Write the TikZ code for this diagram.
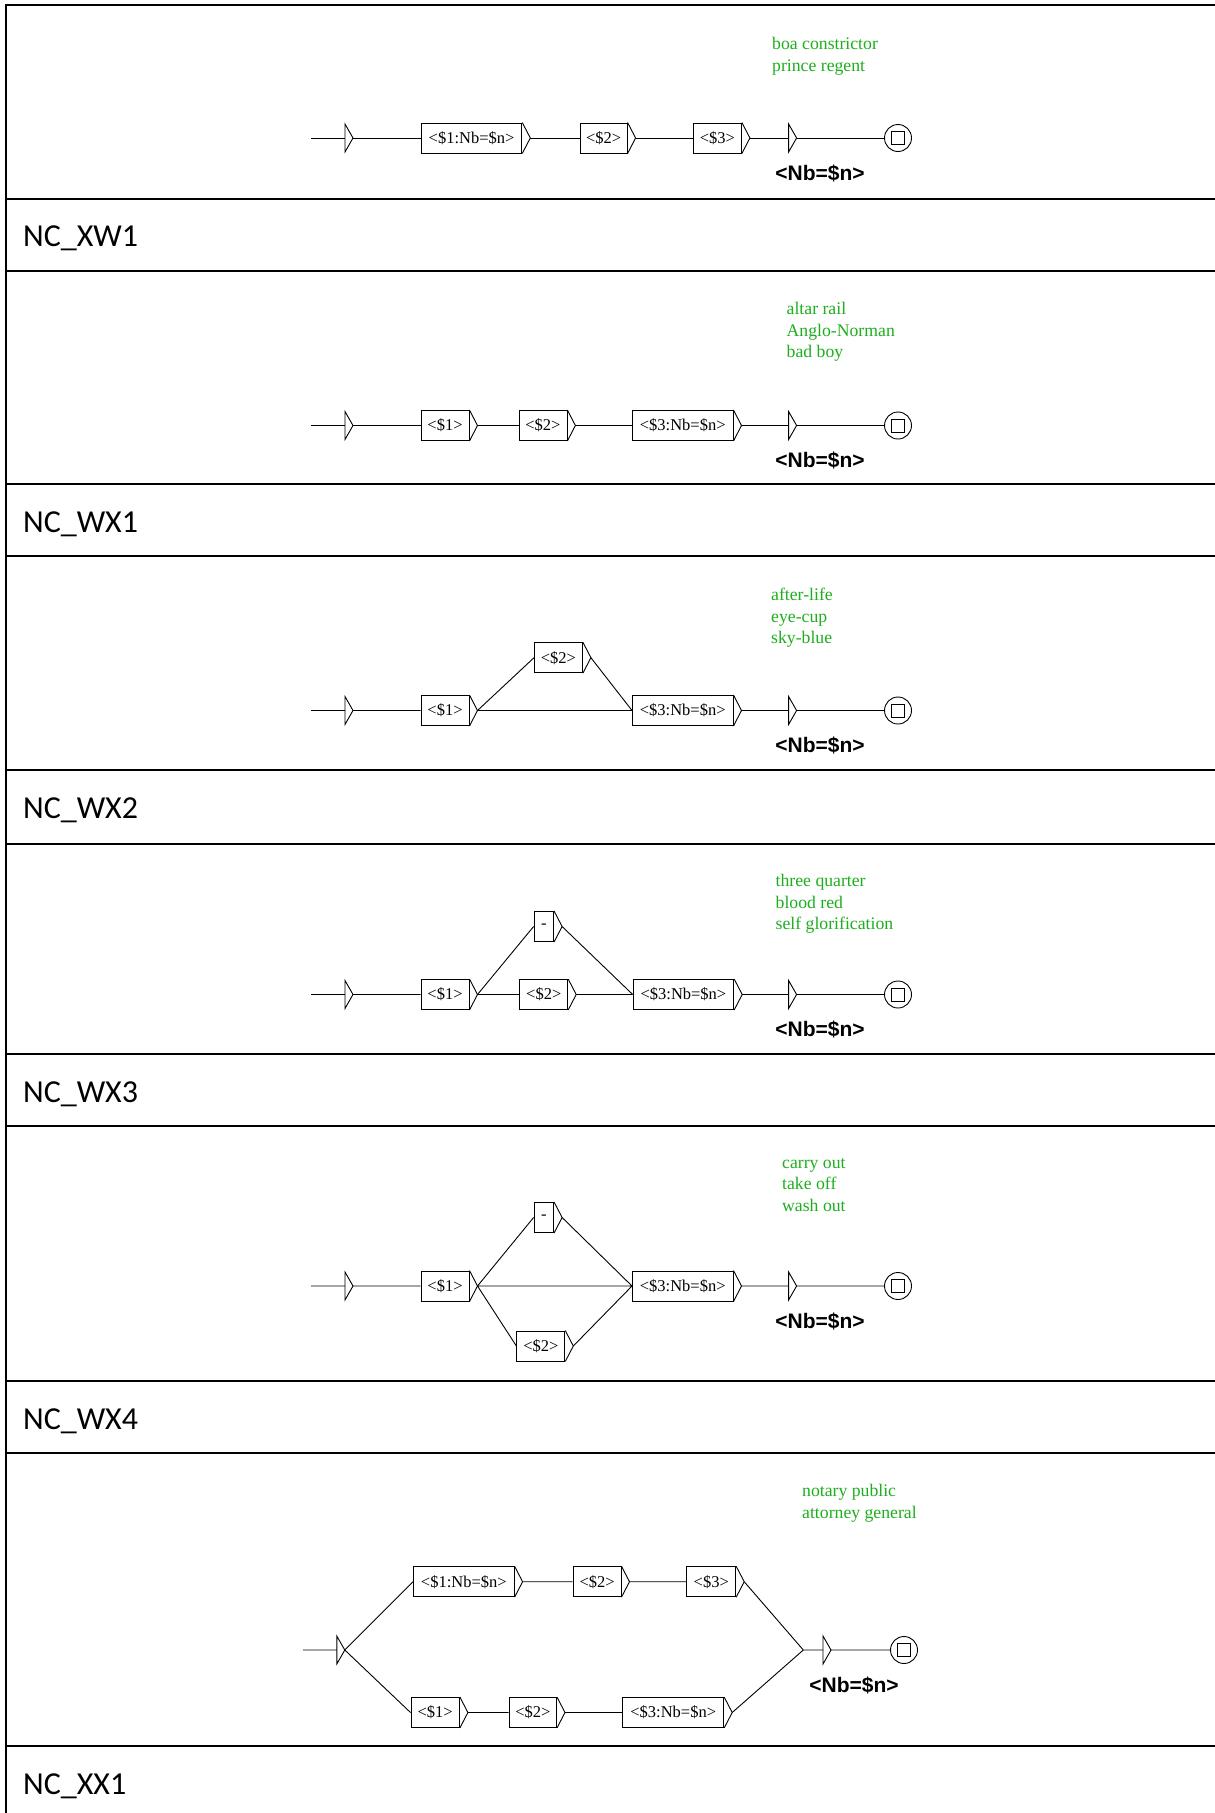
\documentclass[tikz,border=0pt]{standalone}
\usepackage{fontspec}
\setmainfont{Liberation Serif}
\newfontfamily\labfont{Carlito}
\newfontfamily\outfont{Liberation Sans}
\usetikzlibrary{calc}
\definecolor{ugreen}{RGB}{30,175,30}
\newcommand\boxf{\fontsize{16.5}{19}\selectfont}
\newcommand\grnf{\fontsize{17.7}{20}\selectfont}
\newcommand\outf{\outfont\bfseries\fontsize{21}{24}\selectfont}
\newcommand\labf{\labfont\fontsize{32}{38}\selectfont}
\tikzset{
  wire/.style={line width=0.9pt},
  tline/.style={line width=2pt},
  ubox/.style={draw, rectangle, line width=0.9pt, inner sep=0pt, minimum height=30pt, font=\boxf},
  grn/.style={font=\grnf, text=ugreen, anchor=base west, inner sep=0pt},
  outl/.style={font=\outf, anchor=base, inner sep=0pt},
  labl/.style={font=\labf, anchor=base west, inner sep=0pt}
}
\newcommand\UBox[5]{%
  \node[ubox, minimum width=#4pt, anchor=west] (#1) at (#2,#3) {#5};
  \coordinate (#1t) at ($(#1.east)+(8,0)$);
  \draw[wire] (#1.north east) -- (#1t) -- (#1.south east);}
\newcommand\UInit[3]{%
  \coordinate (#1b) at (#2,#3);
  \coordinate (#1t) at (#2+8,#3);
  \draw[wire] (#2,#3-14) -- (#1t) -- (#2,#3+14) -- cycle;}
\newcommand\UFinal[3]{%
  \node[draw, circle, wire, minimum size=27pt, inner sep=0pt] (#1) at (#2,#3) {};
  \node[draw, wire, minimum size=13pt, inner sep=0pt] (#1s) at (#1.center) {};}
\begin{document}
\begin{tikzpicture}[x=1pt,y=-1pt]
\useasboundingbox (0,0) rectangle (1215,1813);
\fill[white] (0,0) rectangle (1215,1813);
% table
\draw[tline] (5,5) -- (1215,5);
\draw[tline] (6,4) -- (6,1813);
\foreach \yy in {199,270.5,484.4,556,770,844,1054.3,1126,1381.4,1453,1745.6}
  \draw[tline] (5,\yy) -- (1215,\yy);
\node[labl] (L1) at (23,246.8) {NC\_XW1};
\node[labl] (L2) at (23,532.5) {NC\_WX1};
\node[labl] (L3) at (23,818) {NC\_WX2};
\node[labl] (L4) at (23,1102.2) {NC\_WX3};
\node[labl] (L5) at (23,1429.5) {NC\_WX4};
\node[labl] (L6) at (23,1794) {NC\_XX1};

% ---------- row 1
\coordinate (r1s) at (311,138);
\UInit{r1i}{345}{138}
\UBox{r1a}{420.8}{138}{100.6}{<\$1:Nb=\$n>}
\UBox{r1b}{579.7}{138}{47}{<\$2>}
\UBox{r1c}{693}{138}{48}{<\$3>}
\UInit{r1e}{788.6}{138}
\UFinal{r1f}{898}{138}
\node[outl] (r1o) at (820,180) {<Nb=\$n>};
\draw[wire] (r1s) -- (r1ib) (r1it) -- (r1a.west) (r1at) -- (r1b.west)
  (r1bt) -- (r1c.west) (r1ct) -- (r1eb) (r1et) -- (r1f.west);
\node[grn] (r1g1) at (772,49) {boa constrictor};
\node[grn] (r1g2) at (772,71) {prince regent};

% ---------- row 2
\coordinate (r2s) at (311,425.5);
\UInit{r2i}{345}{425.5}
\UBox{r2a}{420.6}{425.5}{48}{<\$1>}
\UBox{r2b}{518.5}{425.5}{48}{<\$2>}
\UBox{r2c}{632}{425.5}{100.6}{<\$3:Nb=\$n>}
\UInit{r2e}{788.6}{425.5}
\UFinal{r2f}{898}{425.5}
\node[outl] (r2o) at (820,467.5) {<Nb=\$n>};
\draw[wire] (r2s) -- (r2ib) (r2it) -- (r2a.west) (r2at) -- (r2b.west)
  (r2bt) -- (r2c.west) (r2ct) -- (r2eb) (r2et) -- (r2f.west);
\node[grn] (r2g1) at (786.5,314.5) {altar rail};
\node[grn] (r2g2) at (786.5,336) {Anglo-Norman};
\node[grn] (r2g3) at (786.5,357.5) {bad boy};

% ---------- row 3
\coordinate (r3s) at (311,710.5);
\UInit{r3i}{345}{710.5}
\UBox{r3a}{420.6}{710.5}{48}{<\$1>}
\UBox{r3b}{534}{657.7}{48}{<\$2>}
\UBox{r3c}{632}{710.5}{100.6}{<\$3:Nb=\$n>}
\UInit{r3e}{788.6}{710.5}
\UFinal{r3f}{898}{710.5}
\node[outl] (r3o) at (820,752) {<Nb=\$n>};
\draw[wire] (r3s) -- (r3ib) (r3it) -- (r3a.west) (r3at) -- (r3b.west)
  (r3at) -- (r3c.west) (r3bt) -- (r3c.west) (r3ct) -- (r3eb) (r3et) -- (r3f.west);
\node[grn] (r3g1) at (771,600.5) {after-life};
\node[grn] (r3g2) at (771,622) {eye-cup};
\node[grn] (r3g3) at (771,643.5) {sky-blue};

% ---------- row 4
\coordinate (r4s) at (311,994.5);
\UInit{r4i}{345}{994.5}
\UBox{r4a}{420.6}{994.5}{48}{<\$1>}
\UBox{r4d}{533.6}{926.5}{19.6}{-}
\UBox{r4b}{519.3}{994.5}{48}{<\$2>}
\UBox{r4c}{632.7}{994.5}{100.6}{<\$3:Nb=\$n>}
\UInit{r4e}{788.6}{994.5}
\UFinal{r4f}{898}{994.5}
\node[outl] (r4o) at (820,1036.5) {<Nb=\$n>};
\draw[wire] (r4s) -- (r4ib) (r4it) -- (r4a.west) (r4at) -- (r4d.west)
  (r4at) -- (r4b.west) (r4dt) -- (r4c.west) (r4bt) -- (r4c.west)
  (r4ct) -- (r4eb) (r4et) -- (r4f.west);
\node[grn] (r4g1) at (775.5,886.5) {three quarter};
\node[grn] (r4g2) at (775.5,908) {blood red};
\node[grn] (r4g3) at (775.5,929.5) {self glorification};

% ---------- row 5
\coordinate (r5s) at (311,1286);
\UInit{r5i}{345}{1286}
\UBox{r5a}{420.6}{1286}{48}{<\$1>}
\UBox{r5d}{533.6}{1217.5}{19.6}{-}
\UBox{r5b}{516.4}{1346}{48}{<\$2>}
\UBox{r5c}{632}{1286}{100.6}{<\$3:Nb=\$n>}
\UInit{r5e}{788.6}{1286}
\UFinal{r5f}{898}{1286}
\node[outl] (r5o) at (820,1328) {<Nb=\$n>};
\draw[wire] (r5s) -- (r5ib) (r5it) -- (r5a.west) (r5at) -- (r5d.west)
  (r5at) -- (r5c.west) (r5at) -- (r5b.west) (r5dt) -- (r5c.west)
  (r5bt) -- (r5c.west) (r5ct) -- (r5eb) (r5et) -- (r5f.west);
\node[grn] (r5g1) at (782,1168) {carry out};
\node[grn] (r5g2) at (782,1189.5) {take off};
\node[grn] (r5g3) at (782,1211) {wash out};

% ---------- row 6
\coordinate (r6s) at (303,1650);
\UInit{r6i}{336.8}{1650}
\UBox{r6a}{413}{1581.7}{100.7}{<\$1:Nb=\$n>}
\UBox{r6b}{572.6}{1581.7}{48}{<\$2>}
\UBox{r6c}{686.3}{1581.7}{49}{<\$3>}
\UBox{r6p}{410.5}{1712.5}{48.5}{<\$1>}
\UBox{r6q}{508.6}{1712.5}{47.5}{<\$2>}
\UBox{r6r}{622.3}{1712.5}{101}{<\$3:Nb=\$n>}
\coordinate (r6j) at (803.3,1650);
\UInit{r6e}{823}{1650}
\UFinal{r6f}{904}{1650}
\node[outl] (r6o) at (854,1692) {<Nb=\$n>};
\draw[wire] (r6s) -- (r6ib) (r6it) -- (r6a.west) (r6it) -- (r6p.west)
  (r6at) -- (r6b.west) (r6bt) -- (r6c.west)
  (r6pt) -- (r6q.west) (r6qt) -- (r6r.west)
  (r6ct) -- (r6j) (r6rt) -- (r6j) (r6j) -- (r6eb) (r6et) -- (r6f.west);
\node[grn] (r6g1) at (802,1496.5) {notary public};
\node[grn] (r6g2) at (802,1518) {attorney general};
\end{tikzpicture}
\end{document}
